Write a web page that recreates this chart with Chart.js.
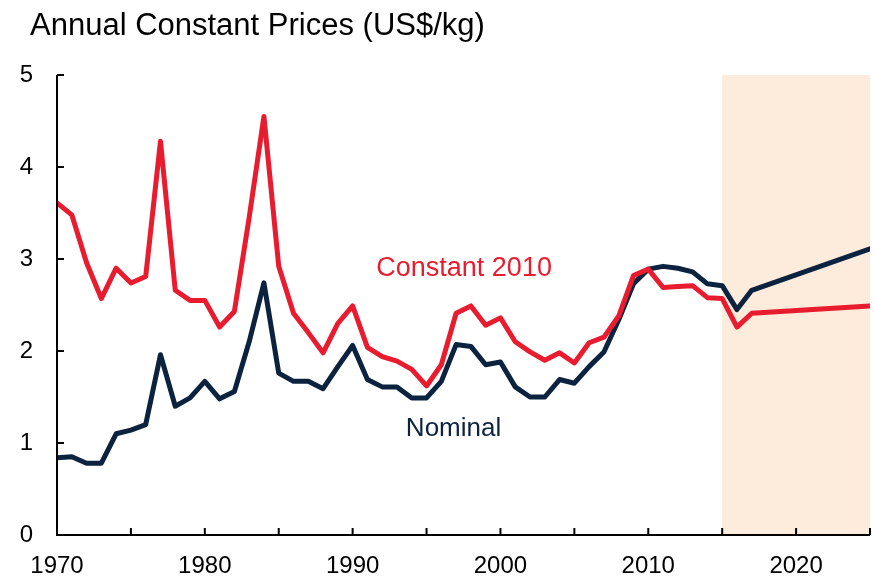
<!DOCTYPE html>
<html>
<head>
<meta charset="utf-8">
<script src="https://cdn.jsdelivr.net/npm/chart.js@4/dist/chart.umd.min.js"></script>
<style>
  html, body { margin: 0; padding: 0; background: #fff; }
  #wrap { width: 875px; height: 579px; }
</style>
</head>
<body>
<div id="wrap"><canvas id="priceChart"></canvas></div>
<script>
// years (2018-2024 are a straight projection line in the source, so only the end point is given)
const years = [1970, 1971, 1972, 1973, 1974, 1975, 1976, 1977, 1978, 1979,
  1980, 1981, 1982, 1983, 1984, 1985, 1986, 1987, 1988, 1989,
  1990, 1991, 1992, 1993, 1994, 1995, 1996, 1997, 1998, 1999,
  2000, 2001, 2002, 2003, 2004, 2005, 2006, 2007, 2008, 2009,
  2010, 2011, 2012, 2013, 2014, 2015, 2016, 2017, 2025];

const constant2010 = [3.61, 3.48, 2.96, 2.57, 2.90, 2.74, 2.81, 4.28, 2.66, 2.55,
  2.55, 2.26, 2.43, 3.45, 4.55, 2.92, 2.41, 2.20, 1.98, 2.30,
  2.49, 2.04, 1.94, 1.89, 1.80, 1.62, 1.85, 2.41, 2.49, 2.28,
  2.36, 2.10, 1.99, 1.90, 1.98, 1.87, 2.09, 2.15, 2.38, 2.82,
  2.89, 2.69, 2.70, 2.71, 2.58, 2.57, 2.26, 2.41, 2.49];

const nominal = [0.84, 0.85, 0.78, 0.78, 1.10, 1.14, 1.20, 1.96, 1.40, 1.49,
  1.67, 1.48, 1.56, 2.10, 2.74, 1.76, 1.67, 1.67, 1.59, 1.83,
  2.06, 1.69, 1.61, 1.61, 1.49, 1.49, 1.67, 2.07, 2.05, 1.85,
  1.88, 1.61, 1.50, 1.50, 1.69, 1.65, 1.83, 1.99, 2.34, 2.73,
  2.89, 2.92, 2.90, 2.86, 2.73, 2.71, 2.45, 2.66, 3.11];

const yTicks = [0, 1, 2, 3, 4, 5];
const forecastStart = 2015;
const forecastEnd = 2025;

const RED = '#e81c2e';
const NAVY = '#0c2340';
const FONT = '"Liberation Sans", Arial, sans-serif';

function toPoints(values) {
  return years.map((yr, i) => ({ x: yr, y: values[i] }));
}

// shaded forecast band, inward tick marks, title and series labels
const decorations = {
  id: 'decorations',
  beforeDatasetsDraw(chart) {
    const { ctx, chartArea, scales } = chart;
    const x0 = scales.x.getPixelForValue(forecastStart);
    const x1 = scales.x.getPixelForValue(forecastEnd);
    ctx.save();
    ctx.fillStyle = '#fdebdc';
    ctx.fillRect(x0, chartArea.top, x1 - x0, chartArea.bottom - chartArea.top);
    ctx.restore();
  },
  afterDatasetsDraw(chart) {
    const { ctx, chartArea, scales } = chart;
    ctx.save();
    ctx.strokeStyle = '#000';
    ctx.lineWidth = 2;
    ctx.beginPath();
    ctx.moveTo(chartArea.left, chartArea.top);
    ctx.lineTo(chartArea.left, chartArea.bottom);
    ctx.lineTo(chartArea.right, chartArea.bottom);
    scales.y.ticks.forEach(t => {
      const py = scales.y.getPixelForValue(t.value);
      ctx.moveTo(chartArea.left, py);
      ctx.lineTo(chartArea.left + 7, py);
    });
    scales.x.ticks.forEach(t => {
      const px = scales.x.getPixelForValue(t.value);
      ctx.moveTo(px, chartArea.bottom);
      ctx.lineTo(px, chartArea.bottom - 7);
    });
    ctx.stroke();

    ctx.textBaseline = 'middle';
    ctx.textAlign = 'left';
    ctx.fillStyle = '#000';
    ctx.font = '31px ' + FONT;
    ctx.fillText('Annual Constant Prices (US$/kg)', 30, 26);

    ctx.font = '27px ' + FONT;
    ctx.fillStyle = RED;
    ctx.fillText('Constant 2010', scales.x.getPixelForValue(1991.6), scales.y.getPixelForValue(2.9));
    ctx.fillStyle = NAVY;
    ctx.font = '26px ' + FONT;
    ctx.fillText('Nominal', scales.x.getPixelForValue(1993.6), scales.y.getPixelForValue(1.15));
    ctx.restore();
  }
};

new Chart(document.getElementById('priceChart'), {
  type: 'line',
  data: {
    datasets: [
      {
        label: 'Constant 2010',
        data: toPoints(constant2010),
        borderColor: RED,
        borderWidth: 5,
        borderJoinStyle: 'round',
        borderCapStyle: 'round',
        pointRadius: 0,
        tension: 0
      },
      {
        label: 'Nominal',
        data: toPoints(nominal),
        borderColor: NAVY,
        borderWidth: 5,
        borderJoinStyle: 'round',
        borderCapStyle: 'round',
        pointRadius: 0,
        tension: 0
      }
    ]
  },
  options: {
    responsive: true,
    maintainAspectRatio: false,
    animation: false,
    layout: { padding: { top: 75, right: 5, left: 0, bottom: 0 } },
    plugins: {
      legend: { display: false },
      tooltip: { enabled: false }
    },
    scales: {
      x: {
        type: 'linear',
        min: 1970,
        max: 2025,
        grid: { display: false, drawTicks: false },
        border: { display: false },
        afterFit(scale) {
          scale.height = 44;
          scale.paddingLeft = 0;
          scale.paddingRight = 0;
        },
        ticks: {
          stepSize: 5,
          autoSkip: false,
          maxRotation: 0,
          padding: 17,
          color: '#000',
          font: { family: FONT, size: 24 },
          callback: v => (v % 10 === 0 && v < 2025 ? String(v) : '')
        }
      },
      y: {
        min: 0,
        max: 5,
        grid: { display: false, drawTicks: false },
        border: { display: false },
        afterFit(scale) { scale.width = 57; },
        afterBuildTicks(scale) { scale.ticks = yTicks.map(v => ({ value: v })); },
        ticks: {
          padding: 24,
          color: '#000',
          font: { family: FONT, size: 24 }
        }
      }
    }
  },
  plugins: [decorations]
});
</script>
</body>
</html>
